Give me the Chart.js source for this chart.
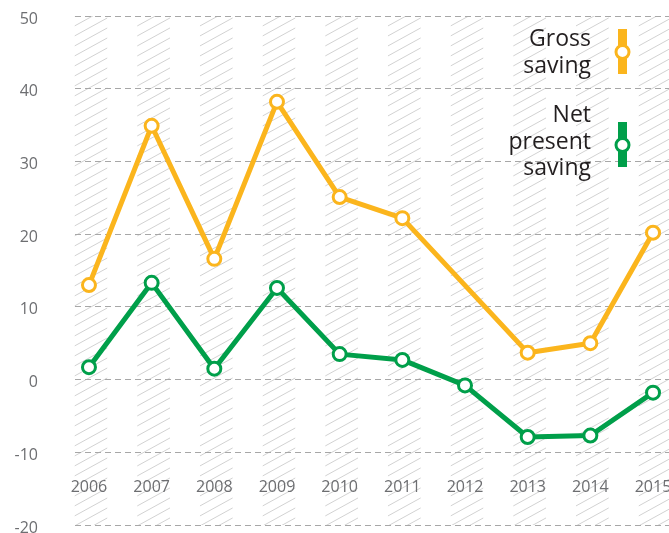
<!DOCTYPE html>
<html>
<head>
<meta charset="utf-8">
<script src="https://cdn.jsdelivr.net/npm/chart.js@4.4.1/dist/chart.umd.min.js"></script>
<style>
  html, body { margin: 0; padding: 0; background: #fff; overflow: hidden; }
  #wrap { width: 669px; height: 533px; position: relative; }
</style>
</head>
<body>
<div id="wrap"><canvas id="chart"></canvas></div>
<script>
// データ
const years = [2006, 2007, 2008, 2009, 2010, 2011, 2012, 2013, 2014, 2015];
const grossSaving = [13.0, 34.9, 16.6, 38.2, 25.1, 22.2, null, 3.7, 5.0, 20.2];
const netPresentSaving = [1.7, 13.3, 1.5, 12.6, 3.5, 2.7, -0.8, -7.9, -7.7, -1.8];
const yTicks = [-20, -10, 0, 10, 20, 30, 40, 50];

const FONT = '"Open Sans", "Noto Sans", sans-serif';
const ORANGE = '#fbb51d';
const GREEN = '#009f4a';

// hatched bands behind each year
const hatchPlugin = {
  id: 'hatch',
  beforeDraw(chart) {
    const { ctx, chartArea: a, scales: { x } } = chart;
    const bandW = 33;
    ctx.save();
    ctx.strokeStyle = '#d2d2d2';
    ctx.lineWidth = 1;
    years.forEach(yr => {
      const cx = x.getPixelForValue(yr) + 2;
      const l = cx - bandW / 2, r = cx + bandW / 2;
      ctx.save();
      ctx.beginPath();
      ctx.rect(l, a.top, bandW, a.bottom - a.top);
      ctx.clip();
      ctx.beginPath();
      const rise = bandW * 0.55;
      for (let y = a.top - 10; y < a.bottom + rise + 10; y += 10) {
        ctx.moveTo(l, y);
        ctx.lineTo(r, y - rise);
      }
      ctx.stroke();
      ctx.restore();
    });
    ctx.restore();
  }
};

// legend drawn by hand (text left of a marker)
const legendPlugin = {
  id: 'sideLegend',
  afterDraw(chart) {
    const ctx = chart.ctx;
    const items = [
      { lines: ['Gross', 'saving'], base: 46, color: ORANGE, barTop: 29, circle: 52 },
      { lines: ['Net', 'present', 'saving'], base: 122, color: GREEN, barTop: 122, circle: 145 }
    ];
    ctx.save();
    ctx.font = '23px ' + FONT;
    ctx.textAlign = 'right';
    ctx.textBaseline = 'alphabetic';
    items.forEach(it => {
      ctx.fillStyle = '#231f20';
      it.lines.forEach((t, i) => ctx.fillText(t, 591, it.base + i * 26.5));
      ctx.fillStyle = it.color;
      ctx.fillRect(618, it.barTop, 9, 45);
      ctx.beginPath();
      ctx.arc(622.5, it.circle, 6.5, 0, Math.PI * 2);
      ctx.fillStyle = '#fff';
      ctx.fill();
      ctx.lineWidth = 3;
      ctx.strokeStyle = it.color;
      ctx.stroke();
    });
    ctx.restore();
  }
};

function series(values) {
  return values.map((v, i) => ({ x: years[i], y: v }));
}

function lineDs(label, values, color) {
  return {
    label: label,
    data: series(values),
    borderColor: color,
    backgroundColor: '#fff',
    borderWidth: 5,
    borderJoinStyle: 'round',
    tension: 0,
    spanGaps: true,
    pointRadius: 6.5,
    pointBorderWidth: 3,
    pointBackgroundColor: '#fff',
    pointBorderColor: color
  };
}

new Chart(document.getElementById('chart'), {
  type: 'line',
  data: {
    datasets: [
      lineDs('Gross saving', grossSaving, ORANGE),
      lineDs('Net present saving', netPresentSaving, GREEN)
    ]
  },
  options: {
    responsive: true,
    maintainAspectRatio: false,
    animation: false,
    layout: { autoPadding: false, padding: { top: 16, bottom: 8, left: 0, right: 0 } },
    plugins: { legend: { display: false }, tooltip: { enabled: false } },
    scales: {
      x: {
        type: 'linear',
        min: 2005.777,
        max: 2015.255,
        position: { y: -12.0 },
        grid: { display: false },
        border: { display: false },
        afterBuildTicks: s => { s.ticks = years.map(v => ({ value: v })); },
        afterFit: s => { s.paddingLeft = 0; s.paddingRight = 0; },
        ticks: {
          color: '#6d6e71',
          font: { family: FONT, size: 16 },
          padding: 3,
          maxRotation: 0,
          autoSkip: false,
          callback: v => String(v)
        }
      },
      y: {
        min: -20,
        max: 50,
        afterBuildTicks: s => { s.ticks = yTicks.map(v => ({ value: v })); },
        afterFit: s => { s.width = 75; s.paddingTop = 0; s.paddingBottom = 0; },
        grid: { color: '#a7a7a7', lineWidth: 1, drawTicks: false },
        border: { display: false, dash: [6, 4] },
        ticks: {
          color: '#6d6e71',
          font: { family: FONT, size: 16 },
          padding: 37,
          labelOffset: 3,
          callback: v => String(v)
        }
      }
    }
  },
  plugins: [hatchPlugin, legendPlugin]
});
</script>
</body>
</html>
